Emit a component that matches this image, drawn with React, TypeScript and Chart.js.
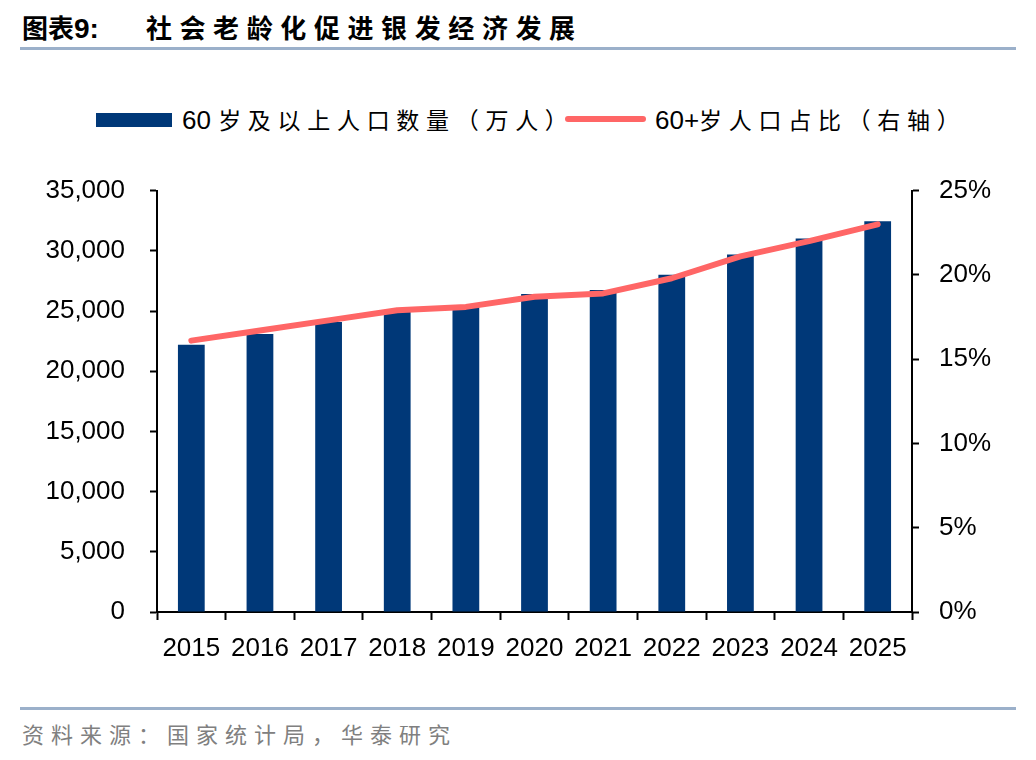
import { useEffect, useRef } from 'react';
import Chart from 'chart.js/auto';

const years = ['2015', '2016', '2017', '2018', '2019', '2020', '2021', '2022', '2023', '2024', '2025'];
// 60 岁及以上人口数量（万人）
const pop60 = [22200, 23086, 24090, 24949, 25388, 26402, 26736, 28004, 29697, 31031, 32450];
// 60+ 岁人口占比（%）
const share60 = [16.1, 16.7, 17.3, 17.9, 18.1, 18.7, 18.9, 19.8, 21.1, 22.0, 23.0];

const leftTicks = [0, 5000, 10000, 15000, 20000, 25000, 30000, 35000];
const rightTicks = [0, 5, 10, 15, 20, 25];

const BAR_COLOR = '#003878';
const LINE_COLOR = '#ff6666';
const RULE_COLOR = '#9bb0ca';
const NUM_FONT = '"Liberation Sans", Arial, sans-serif';
const CJK_FONT = '"Noto Sans CJK SC", "Liberation Sans", sans-serif';

export default function App() {
  const canvasRef = useRef<HTMLCanvasElement>(null);

  useEffect(() => {
    if (!canvasRef.current) return;
    const tickFont = { family: NUM_FONT, size: 26 };

    const chart = new Chart(canvasRef.current, {
      data: {
        labels: years,
        datasets: [
          {
            type: 'line',
            label: '60+岁人口占比（右轴）',
            data: share60,
            yAxisID: 'y1',
            borderColor: LINE_COLOR,
            borderWidth: 6,
            borderCapStyle: 'round',
            borderJoinStyle: 'round',
            pointRadius: 0,
            tension: 0,
            order: 1,
          },
          {
            type: 'bar',
            label: '60 岁及以上人口数量（万人）',
            data: pop60,
            yAxisID: 'y',
            backgroundColor: BAR_COLOR,
            categoryPercentage: 1,
            barPercentage: 0.39,
            order: 2,
          },
        ],
      },
      options: {
        animation: false,
        responsive: false,
        maintainAspectRatio: false,
        layout: { padding: { top: 37, left: 0, right: 0, bottom: 0 } },
        plugins: {
          legend: { display: false },
          tooltip: { enabled: false },
        },
        scales: {
          x: {
            offset: true,
            grid: {
              offset: true,
              drawOnChartArea: false,
              drawTicks: true,
              tickLength: 8,
              tickColor: '#000',
              tickWidth: 2,
            },
            border: { display: true, color: '#000', width: 2 },
            ticks: { color: '#000', font: tickFont, padding: 13, maxRotation: 0, autoSkip: false },
            afterFit: (scale: any) => {
              scale.height = 78;
            },
          },
          y: {
            position: 'left',
            min: 0,
            max: 35000,
            afterBuildTicks: (scale: any) => {
              scale.ticks = leftTicks.map((v) => ({ value: v }));
            },
            grid: {
              drawOnChartArea: false,
              tickLength: 7,
              tickColor: '#000',
              tickWidth: 2,
            },
            border: { display: true, color: '#000', width: 2 },
            ticks: {
              color: '#000',
              font: tickFont,
              padding: 25,
              callback: (v: any) => Number(v).toLocaleString('en-US'),
            },
            afterFit: (scale: any) => {
              scale.width = 157;
            },
          },
          y1: {
            position: 'right',
            min: 0,
            max: 25,
            afterBuildTicks: (scale: any) => {
              scale.ticks = rightTicks.map((v) => ({ value: v }));
            },
            grid: {
              drawOnChartArea: false,
              tickLength: 7,
              tickColor: '#000',
              tickWidth: 2,
            },
            border: { display: true, color: '#000', width: 2 },
            ticks: {
              color: '#000',
              font: tickFont,
              padding: 20,
              callback: (v: any) => `${v}%`,
            },
            afterFit: (scale: any) => {
              scale.width = 124;
            },
          },
        },
      },
    } as any);

    return () => {
      chart.destroy();
    };
  }, []);

  const cjk = { fontFamily: CJK_FONT, fontSize: 23, letterSpacing: 6.7 };
  const num = { fontFamily: NUM_FONT, fontSize: 26 };

  return (
    <div
      style={{
        position: 'absolute',
        left: 0,
        top: 0,
        width: 1036,
        height: 760,
        background: '#fff',
        overflow: 'hidden',
      }}
    >
      {/* title */}
      <div
        style={{
          position: 'absolute',
          left: 22,
          top: 9,
          fontFamily: CJK_FONT,
          fontWeight: 700,
          fontSize: 26,
          lineHeight: '36px',
          color: '#000',
          whiteSpace: 'nowrap',
        }}
      >
        <span>图表</span>
        <span style={{ fontFamily: NUM_FONT, fontSize: 28 }}>9:</span>
        <span style={{ marginLeft: 47, letterSpacing: 7.6 }}>社会老龄化促进银发经济发展</span>
      </div>
      <div style={{ position: 'absolute', left: 20, top: 47, width: 996, height: 3, background: RULE_COLOR }} />

      {/* legend */}
      <div style={{ position: 'absolute', left: 96, top: 113, width: 76, height: 14, background: BAR_COLOR }} />
      <div
        style={{
          position: 'absolute',
          left: 182,
          top: 101,
          lineHeight: '36px',
          whiteSpace: 'nowrap',
          color: '#000',
        }}
      >
        <span style={num}>60 </span>
        <span style={cjk}>岁及以上人口数量（万人）</span>
      </div>
      <div
        style={{
          position: 'absolute',
          left: 565,
          top: 116,
          width: 81,
          height: 6,
          borderRadius: 3,
          background: LINE_COLOR,
        }}
      />
      <div
        style={{
          position: 'absolute',
          left: 655,
          top: 101,
          lineHeight: '36px',
          whiteSpace: 'nowrap',
          color: '#000',
        }}
      >
        <span style={num}>60+</span>
        <span style={cjk}>岁人口占比（右轴）</span>
      </div>

      {/* chart */}
      <div style={{ position: 'absolute', left: 0, top: 150, width: 1036, height: 540 }}>
        <canvas ref={canvasRef} width={1036} height={540} style={{ width: 1036, height: 540 }} />
      </div>

      {/* source */}
      <div style={{ position: 'absolute', left: 20, top: 707, width: 996, height: 3, background: RULE_COLOR }} />
      <div
        style={{
          position: 'absolute',
          left: 22,
          top: 716,
          fontFamily: CJK_FONT,
          fontSize: 22,
          lineHeight: '34px',
          letterSpacing: 7,
          color: '#808080',
          whiteSpace: 'nowrap',
        }}
      >
        资料来源：国家统计局，华泰研究
      </div>
    </div>
  );
}
